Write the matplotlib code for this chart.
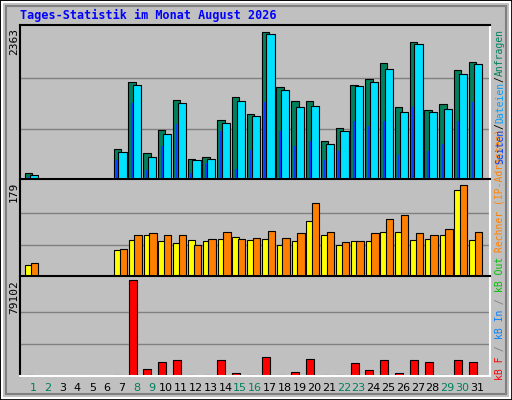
import matplotlib
matplotlib.use("Agg")
import matplotlib.pyplot as plt
import numpy as np

days = list(range(1, 32))
hits  = [90,0,0,0,0,0,475,1515,413,765,1240,320,337,920,1285,1025,2300,1440,1225,1225,600,795,1470,1560,1820,1130,2140,1085,1180,1700,1835]
files = [60,0,0,0,0,0,430,1470,352,705,1195,290,306,870,1225,980,2265,1390,1130,1150,550,750,1455,1515,1715,1055,2110,1055,1100,1640,1805]
pages = [30,0,0,0,0,0,290,1195,138,520,860,92,245,750,153,460,1210,750,520,600,290,445,905,825,905,370,1130,445,550,905,1210]
visits = [20,0,0,0,0,0,50,68,77,66,62,68,66,70,75,68,71,58,66,104,77,58,66,66,83,83,68,71,77,164,68]
sites  = [24,0,0,0,0,0,52,77,81,77,77,58,71,83,71,73,85,73,81,139,83,64,66,81,109,115,81,77,90,173,83]
kbytes = [500,0,0,0,0,0,500,79102,5700,11800,12800,500,500,12800,2300,500,15400,500,3200,13800,500,500,10800,4900,12800,2300,12800,11800,500,12800,11800]
weekend = [1,2,8,9,15,16,22,23,29,30]
max_hits, max_sites, max_kb = 2363, 179, 79102

W, H = 512, 400
fig = plt.figure(figsize=(W/100, H/100), dpi=100, facecolor="#c0c0c0")
mono = "DejaVu Sans Mono"
fig.patches.append(plt.Rectangle((0,0),1,1,transform=fig.transFigure,fill=False,ec="black",lw=2))
fig.patches.append(plt.Rectangle((2/W,2/H),1-4/W,1-4/H,transform=fig.transFigure,fill=False,ec="white",lw=1.5))
fig.patches.append(plt.Rectangle((6/W,6/H),1-12/W,1-12/H,transform=fig.transFigure,fill=False,ec="#808080",lw=1.5))

def mkax(top, bot):
    ax = fig.add_axes([20/W, (H-bot)/H, 470/W, (bot-top)/H])
    ax.set_facecolor("#c0c0c0")
    ax.set_xlim(0.12, 31.88)
    for s in ["left","top"]:
        ax.spines[s].set_color("black")
    for s in ["right","bottom"]:
        ax.spines[s].set_color("white")
    for s in ax.spines.values():
        s.set_linewidth(1.5)
    ax.set_xticks([]); ax.set_yticks([])
    return ax

d = np.array(days)
ax1 = mkax(25, 179)
ax1.set_ylim(0, max_hits*1.02)
for g in [max_hits/3, 2*max_hits/3]:
    ax1.axhline(g, color="#808080", lw=1, zorder=0)
ax1.bar(d-0.3, hits, 0.5, color="#00805c", ec="black", lw=0.8, zorder=2)
ax1.bar(d+0.05, files, 0.55, color="#00e0ff", ec="black", lw=0.8, zorder=2)
ax1.bar(d-0.3, pages, 0.12, color="#0040ff", lw=0, zorder=3)

ax2 = mkax(179, 276)
ax2.set_ylim(0, max_sites*1.03)
for g in [max_sites/3, 2*max_sites/3]:
    ax2.axhline(g, color="#808080", lw=1, zorder=0)
ax2.bar(d-0.3, visits, 0.45, color="#ffff00", ec="black", lw=0.8)
ax2.bar(d+0.1, sites, 0.5, color="#ff8000", ec="black", lw=0.8)

ax3 = mkax(276, 376)
ax3.set_ylim(0, max_kb*1.04)
for g in [max_kb/3, 2*max_kb/3]:
    ax3.axhline(g, color="#808080", lw=1, zorder=0)
ax3.bar(d-0.27, kbytes, 0.55, color="#ff0000", ec="black", lw=0.8)

for dd in days:
    fig.text((33+14.8*(dd-1))/W, 1-388/H, str(dd), ha="center", va="center",
             fontsize=8, color="#00805c" if dd in weekend else "black", family="DejaVu Sans")

fig.text(20/W, 1-15/H, "Tages-Statistik im Monat August 2026", color="#0000ff",
         fontsize=8.5, fontweight="bold", family=mono, va="center")
for y, s in [(28, str(max_hits)), (182, str(max_sites)), (280, str(max_kb))]:
    fig.text(14/W, 1-y/H, s, rotation=90, ha="center", va="top", fontsize=8, family=mono)

FS = 7
CW = 0.602*FS*100/72
def vlabel(parts, ybottom):
    y = ybottom
    for txt, col in parts:
        fig.text(500/W, 1-y/H, txt, rotation=90, ha="center", va="bottom",
                 fontsize=FS, family=mono, color=col)
        y -= CW*len(txt)

vlabel([("kB F", "#ff0000"), (" / ", "#808080"), ("kB In", "#0080ff"),
        (" / ", "#808080"), ("kB Out", "#00c000")], 380)
vlabel([("Rechner (IP-Adressen)", "#ff8000")], 252)
vlabel([("Seiten", "#0040ff"), ("/", "black"), ("Dateien", "#00a0ff"), ("/", "black"),
        ("Anfragen", "#00805c")], 164)

fig.savefig("out.png", dpi=100, facecolor=fig.get_facecolor())
